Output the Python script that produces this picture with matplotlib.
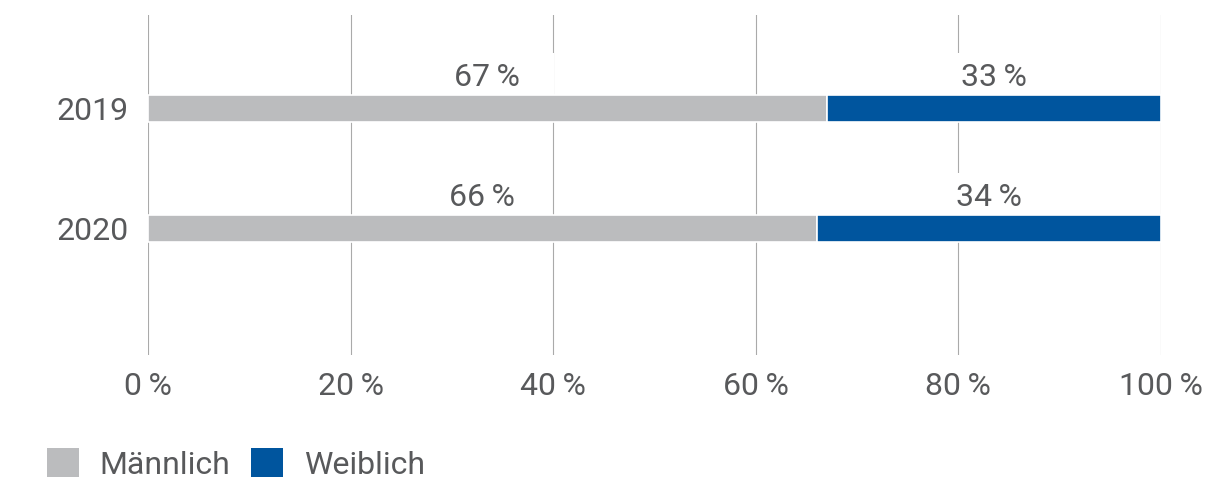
import matplotlib.pyplot as plt
from matplotlib.patches import Patch

# Daten
jahre = ['2019', '2020']
maennlich = [67, 66]
weiblich = [33, 34]
ticks = [0, 20, 40, 60, 80, 100]

grau = '#bbbcbe'
blau = '#00559e'
textfarbe = '#58595b'

plt.rcParams['font.family'] = ['Roboto', 'DejaVu Sans']
plt.rcParams['font.weight'] = 'normal'
gr = 23

fig = plt.figure(figsize=(12.05, 4.88), dpi=100)
ax = fig.add_axes([148 / 1205, 1 - 355 / 488, (1161 - 148) / 1205, 340 / 488])

pos = list(range(len(jahre)))
ax.barh(pos, maennlich, height=0.225, color=grau, edgecolor='white', linewidth=1.2, zorder=3)
ax.barh(pos, weiblich, left=maennlich, height=0.225, color=blau, edgecolor='white', linewidth=1.2, zorder=3)

# Beschriftungen über den Balken (weißer Kasten unterbricht die Gitterlinien)
box = dict(facecolor='white', edgecolor='none', boxstyle='square,pad=0.3')
for i in pos:
    ax.text(maennlich[i] / 2, i - 0.26, f'   {maennlich[i]}\u2009%   ', ha='center', va='center',
            fontsize=gr, color=textfarbe, zorder=2, bbox=box)
    ax.text(maennlich[i] + weiblich[i] / 2, i - 0.26, f'   {weiblich[i]}\u2009%   ', ha='center', va='center',
            fontsize=gr, color=textfarbe, zorder=2, bbox=box)

ax.set_xlim(0, 100)
ax.set_ylim(2.054, -0.779)
ax.set_yticks(pos)
ax.set_yticklabels(jahre, fontsize=gr, color=textfarbe)
ax.set_xticks(ticks)
ax.set_xticklabels([f'{t}\u2009%' for t in ticks], fontsize=gr, color=textfarbe)
ax.tick_params(axis='both', length=0)
ax.tick_params(axis='y', pad=14)
ax.tick_params(axis='x', pad=12)

for t in ticks:
    ax.axvline(t, color='#aaaaaa', linewidth=0.8, zorder=0)
for s in ax.spines.values():
    s.set_visible(False)

handles = [Patch(facecolor=grau), Patch(facecolor=blau)]
fig.legend(handles, ['Männlich', 'Weiblich'], loc='center left', bbox_to_anchor=(47 / 1205, 1 - 464 / 488),
           ncol=2, frameon=False, fontsize=gr, labelcolor=textfarbe, borderpad=0, borderaxespad=0,
           handlelength=1.0, handleheight=1.0, handletextpad=0.65, columnspacing=0.65)

fig.savefig('out.png', dpi=100)
